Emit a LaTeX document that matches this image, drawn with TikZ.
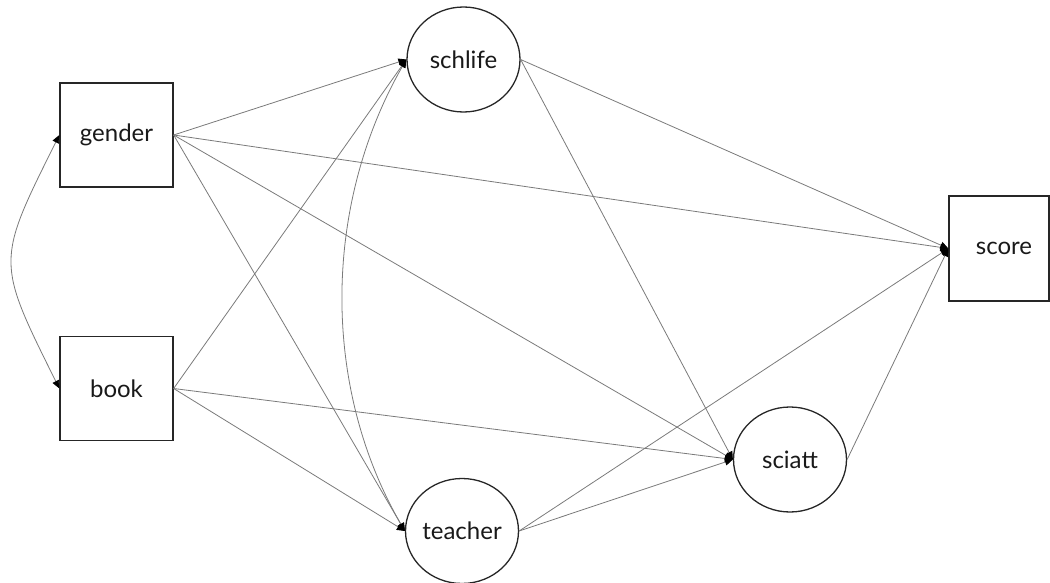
\documentclass[tikz,border=0pt]{standalone}
\usepackage{fontspec}
\setmainfont{Lato}
\usetikzlibrary{arrows.meta,shapes.geometric}
\begin{document}
\begin{tikzpicture}[x=1pt,y=-1pt,
  lbl/.style={font=\fontsize{24}{28}\selectfont, text=black!90},
  obs/.style={lbl, draw=black!85, line width=1.3pt, rectangle, minimum width=113pt, minimum height=104pt, inner sep=0pt},
  lat/.style={lbl, draw=black!85, line width=1.3pt, ellipse, minimum width=113pt, minimum height=105pt, inner sep=0pt},
  conn/.style={draw=black!52, line width=0.8pt, -{Triangle[length=8pt,width=7pt,color=black]}},
  cov/.style={draw=black!52, line width=0.8pt, {Triangle[length=8pt,width=7pt,color=black]}-{Triangle[length=8pt,width=7pt,color=black]}}]
\useasboundingbox (0,0) rectangle (1050,583);
\node[obs] (gender) at (116.5,135) {gender};
\node[obs] (book) at (116.5,388.5) {book};
\node[obs, minimum width=100pt, minimum height=105pt] (score) at (999,248.5) {\hspace*{10pt}score};
\node[lat] (schlife) at (463.5,59.5) {schlife};
\node[lat] (teacher) at (462,531) {teacher};
\node[lat] (sciatt) at (790,459.5) {sciatt};
\draw[conn] (gender.east) -- (schlife.west);
\draw[conn] (gender.east) -- (score.west);
\draw[conn] (gender.east) -- (teacher.west);
\draw[conn] (gender.east) -- (sciatt.west);
\draw[conn] (book.east) -- (schlife.west);
\draw[conn] (book.east) -- (teacher.west);
\draw[conn] (book.east) -- (sciatt.west);
\draw[conn] (schlife.east) -- (score.west);
\draw[conn] (schlife.east) -- (sciatt.west);
\draw[conn] (teacher.east) -- (score.west);
\draw[conn] (teacher.east) -- (sciatt.west);
\draw[conn] (sciatt.east) -- (score.west);
\draw[cov] (gender.west) .. controls (-4,262) and (-4,261) .. (book.west);
\draw[cov] (schlife.west) .. controls (323,205) and (321,386) .. (teacher.west);
\end{tikzpicture}
\end{document}
